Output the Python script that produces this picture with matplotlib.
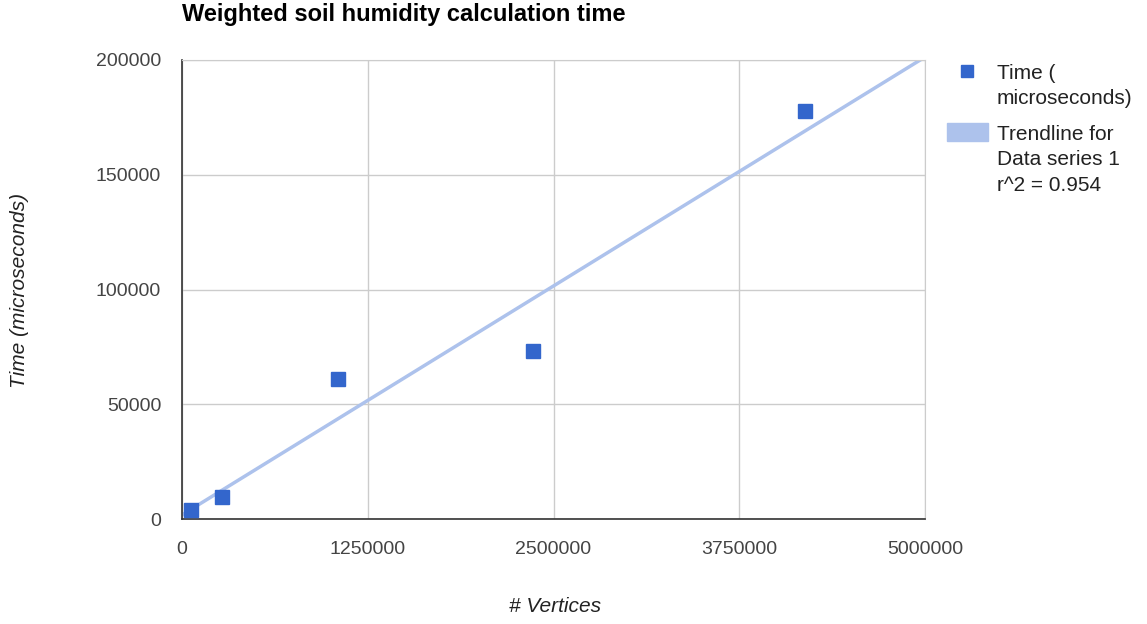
import numpy as np
import matplotlib.pyplot as plt
from matplotlib.patches import Rectangle
from matplotlib.lines import Line2D
from matplotlib.ticker import FuncFormatter

plt.rcParams['font.family'] = ['Liberation Sans', 'DejaVu Sans']

# measured calculation times
vertices = [60000, 269000, 1050000, 2362000, 4193000]
time_us = [3900, 9600, 61000, 73200, 177800]
x_ticks = [0, 1250000, 2500000, 3750000, 5000000]
y_ticks = [0, 50000, 100000, 150000, 200000]

# linear trendline
slope, intercept = np.polyfit(vertices, time_us, 1)
pred = np.polyval([slope, intercept], vertices)
r2 = 1 - np.sum((np.array(time_us) - pred) ** 2) / np.sum((np.array(time_us) - np.mean(time_us)) ** 2)

fig = plt.figure(figsize=(11.47, 6.24), dpi=100)
ax = fig.add_axes([182 / 1147, 1 - 519 / 624, 743 / 1147, 459 / 624])

tx = np.array([0, 5000000])
ax.plot(tx, slope * tx + intercept, color='#adc2ec', lw=2.5, zorder=2)
ax.plot(vertices, time_us, 's', color='#3366cc', ms=10, zorder=3)

ax.set_xlim(0, 5000000)
ax.set_ylim(0, 200000)
ax.set_xticks(x_ticks)
ax.set_yticks(y_ticks)
plain = FuncFormatter(lambda v, p: '%d' % v)
ax.xaxis.set_major_formatter(plain)
ax.yaxis.set_major_formatter(plain)
ax.grid(True, color='#cccccc', lw=1)
ax.set_axisbelow(True)
ax.tick_params(length=0, labelsize=14, colors='#444444')
ax.tick_params(axis='x', pad=16)
ax.tick_params(axis='y', pad=15)
for s in ['top', 'right']:
    ax.spines[s].set_color('#cccccc')
for s in ['left', 'bottom']:
    ax.spines[s].set_color('#333333')
    ax.spines[s].set_linewidth(1.2)

fig.text(182 / 1147, 1 - 15 / 624, 'Weighted soil humidity calculation time',
         fontsize=17, fontweight='bold', va='center', ha='left', color='#000000')
fig.text(20 / 1147, 1 - 290 / 624, 'Time (microseconds)', rotation=90, style='italic',
         fontsize=15, color='#222222', ha='center', va='center')
fig.text(555 / 1147, 1 - 607 / 624, '# Vertices', style='italic',
         fontsize=15, color='#222222', ha='center', va='center')

# legend drawn by hand
fig.add_artist(Line2D([967 / 1147], [1 - 71 / 624], marker='s', color='#3366cc', ms=9,
                      transform=fig.transFigure))
fig.text(997 / 1147, 1 - 64 / 624, 'Time (\nmicroseconds)', fontsize=15, color='#222222',
         ha='left', va='top', linespacing=1.43, transform=fig.transFigure)
fig.add_artist(Rectangle((947 / 1147, 1 - 141 / 624), 41 / 1147, 18 / 624,
                         color='#adc2ec', transform=fig.transFigure))
fig.text(997 / 1147, 1 - 125 / 624, 'Trendline for\nData series 1\nr^2 = %.3f' % r2,
         fontsize=15, color='#222222', ha='left', va='top', linespacing=1.43,
         transform=fig.transFigure)

fig.savefig('out.png', dpi=100)
